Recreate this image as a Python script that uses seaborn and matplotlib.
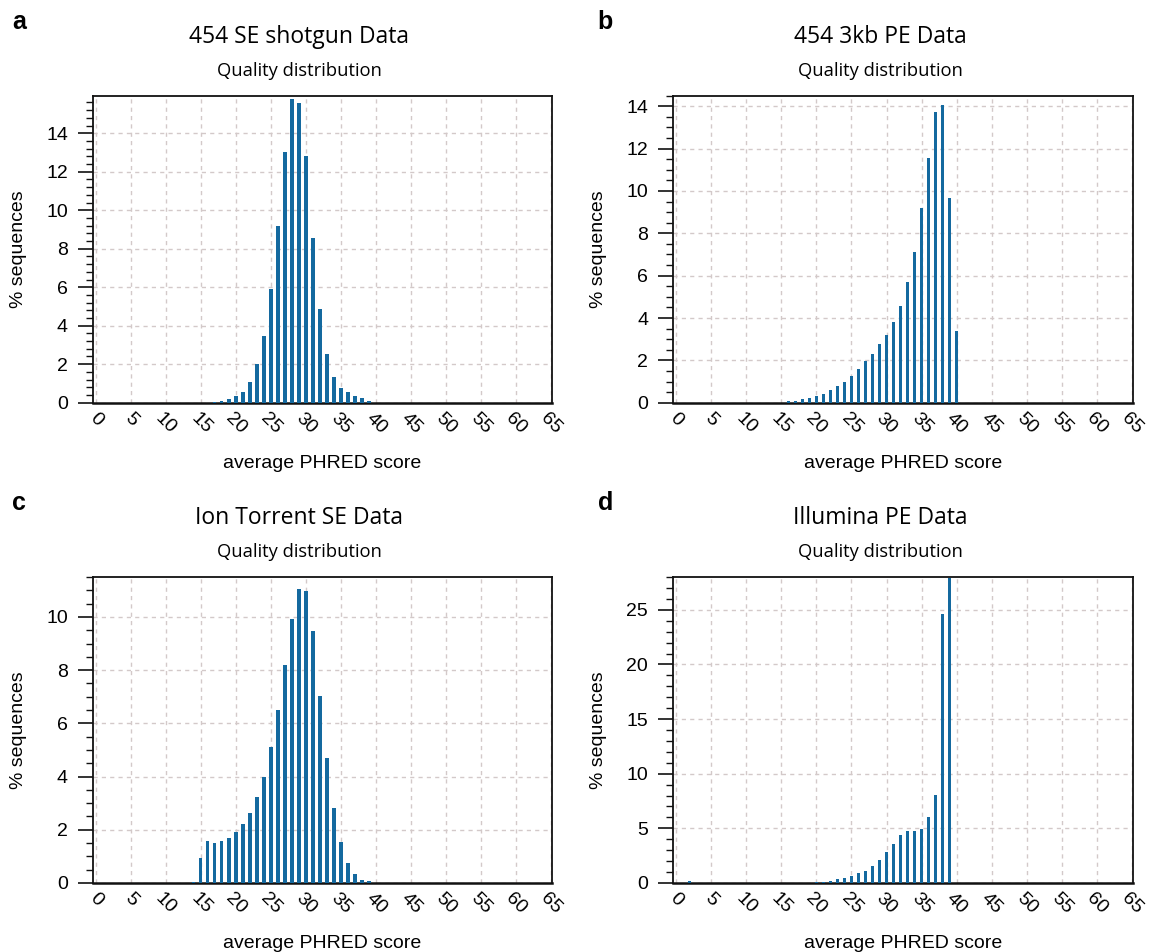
import matplotlib.pyplot as plt
import matplotlib.ticker as mticker
import seaborn as sns
import pandas as pd

# data (score -> % of sequences)
se_shotgun_scores = list(range(17, 40))
se_shotgun_pct = [0.05, 0.09, 0.17, 0.33, 0.58, 1.09, 2.03, 3.48, 5.9, 9.18,
                  13.04, 15.76, 15.58, 12.83, 8.55, 4.85, 2.51, 1.32, 0.76,
                  0.55, 0.37, 0.22, 0.08]

pe_3kb_scores = list(range(16, 41))
pe_3kb_pct = [0.07, 0.1, 0.16, 0.23, 0.32, 0.42, 0.6, 0.77, 0.99, 1.28, 1.6,
              1.97, 2.32, 2.76, 3.2, 3.82, 4.57, 5.68, 7.14, 9.21, 11.58,
              13.74, 14.05, 9.65, 3.4]

ion_scores = list(range(14, 40))
ion_pct = [0.03, 0.94, 1.59, 1.5, 1.56, 1.7, 1.93, 2.23, 2.64, 3.23, 4.0,
           5.11, 6.49, 8.19, 9.91, 11.05, 10.98, 9.46, 7.01, 4.7, 2.83, 1.55,
           0.76, 0.35, 0.11, 0.06]

illumina_scores = [2] + list(range(20, 40))
illumina_pct = [0.15, 0.1, 0.12, 0.2, 0.33, 0.5, 0.65, 0.9, 1.13, 1.53, 2.09,
                2.8, 3.6, 4.4, 4.73, 4.75, 4.9, 6.0, 8.05, 24.65, 27.9]

titles = ['454 SE shotgun Data', '454 3kb PE Data',
          'Ion Torrent SE Data', 'Illumina PE Data']
letters = ['a', 'b', 'c', 'd']
x_ticks = list(range(0, 70, 5))

BAR = '#14699f'
GRID = '#d3c9c9'
SPINE = '#111111'

sns.set_theme(style="ticks")
plt.rcParams['font.family'] = ['Liberation Sans', 'DejaVu Sans']
plt.rcParams.update({'text.color': 'black', 'axes.labelcolor': 'black',
                     'xtick.color': 'black', 'ytick.color': 'black'})

fig = plt.figure(figsize=(11.55, 9.52), dpi=100)
fig.patch.set_facecolor('white')

# (rect, scores, pct, ylim top, major step, minor step)
panels = [
    ([0.0805, 0.577, 0.3974, 0.3225], se_shotgun_scores, se_shotgun_pct, 15.95, 2, 0.4),
    ([0.5827, 0.577, 0.3983, 0.3225], pe_3kb_scores, pe_3kb_pct, 14.5, 2, 0.5),
    ([0.0805, 0.0725, 0.3974, 0.3214], ion_scores, ion_pct, 11.5, 2, 0.5),
    ([0.5827, 0.0725, 0.3983, 0.3214], illumina_scores, illumina_pct, 28, 5, 1),
]

for i, (rect, scores, pct, ytop, major, minor) in enumerate(panels):
    ax = fig.add_axes(rect)
    df = pd.DataFrame({'score': scores, 'pct': pct})
    sns.barplot(data=df, x='score', y='pct', native_scale=True, width=0.45,
                color=BAR, saturation=1, errorbar=None, linewidth=0,
                zorder=3, ax=ax)

    ax.set_xlim(-0.4, 65.1)
    ax.set_ylim(0, ytop)
    ax.set_xticks(x_ticks)
    ax.set_xticklabels([str(t) for t in x_ticks], rotation=-45,
                       ha='center', va='top', fontsize=14)
    ax.yaxis.set_major_locator(mticker.MultipleLocator(major))
    ax.yaxis.set_minor_locator(mticker.MultipleLocator(minor))
    ax.yaxis.set_major_formatter(mticker.FormatStrFormatter('%d'))
    ax.tick_params(axis='x', length=0, pad=5)
    ax.tick_params(axis='y', which='major', length=11, width=1.2, pad=7,
                   labelsize=14, color=SPINE)
    ax.tick_params(axis='y', which='minor', length=5, width=1, color=SPINE)

    ax.grid(True, which='major', color=GRID, linestyle=(0, (3, 3)), linewidth=1)
    ax.set_axisbelow(True)
    for side, sp in ax.spines.items():
        sp.set_visible(True)
        sp.set_color(SPINE)
        sp.set_linewidth(1.8 if side == 'bottom' else 1.3)

    ax.set_xlabel('average PHRED score', fontsize=14)
    ax.set_ylabel('% sequences', fontsize=14)
    ax.xaxis.set_label_coords(0.5, -0.169)
    ax.yaxis.set_label_coords(-0.144, 0.5)

    # headers above each panel
    col, row = i % 2, i // 2
    dy = row * 0.5053
    fig.text(0.0104 + col * 0.507, 0.9695 - dy, letters[i], fontsize=18,
             fontweight='bold', va='baseline')
    fig.text(0.259 + col * 0.503, 0.9548 - dy, titles[i], fontsize=16.5,
             family=['Open Sans', 'DejaVu Sans'], ha='center', va='baseline')
    fig.text(0.259 + col * 0.503, 0.9202 - dy, 'Quality distribution', fontsize=13.2,
             family=['Open Sans', 'DejaVu Sans'], ha='center', va='baseline')

fig.savefig('out.png', dpi=100)
plt.close(fig)
